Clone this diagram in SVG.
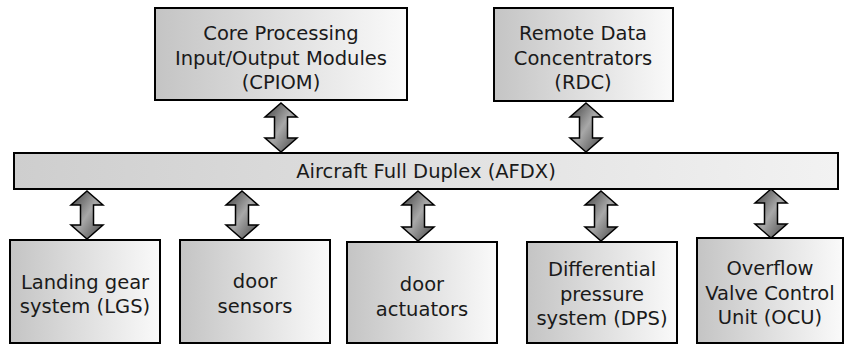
<svg xmlns="http://www.w3.org/2000/svg" width="846" height="347" viewBox="0 0 846 347">
<defs>
<linearGradient id="boxg" x1="0" y1="0" x2="1" y2="0">
<stop offset="0" stop-color="#c4c4c4"/>
<stop offset="1" stop-color="#fafafa"/>
</linearGradient>
<linearGradient id="barg" x1="0" y1="0" x2="1" y2="0">
<stop offset="0" stop-color="#cecece"/>
<stop offset="1" stop-color="#f2f2f2"/>
</linearGradient>
<linearGradient id="arrg" x1="0" y1="0" x2="1" y2="1">
<stop offset="0" stop-color="#3c3c3c"/>
<stop offset="0.5" stop-color="#a8a8a8"/>
<stop offset="1" stop-color="#454545"/>
</linearGradient>
</defs>
<style>
.box{fill:url(#boxg);stroke:#000;stroke-width:2}
.bar{fill:url(#barg);stroke:#000;stroke-width:2}
.arr{fill:url(#arrg);stroke:#000;stroke-width:1.5;stroke-linejoin:miter}
text{font-family:"DejaVu Sans",sans-serif;font-size:19.5px;fill:#1a1a1a;text-anchor:middle}
</style>
<rect width="846" height="347" fill="#fff"/>
<g id="connectors">
<path class="arr" d="M281,103 L297,117 L287.5,117 L287.5,138 L297,138 L281,152 L265,138 L274.5,138 L274.5,117 L265,117 Z"/>
<path class="arr" d="M586,103 L602,117 L592.5,117 L592.5,138 L602,138 L586,152 L570,138 L579.5,138 L579.5,117 L570,117 Z"/>
<path class="arr" d="M87,191 L103,205 L93.5,205 L93.5,225 L103,225 L87,239 L71,225 L80.5,225 L80.5,205 L71,205 Z"/>
<path class="arr" d="M242,191 L258,205 L248.5,205 L248.5,225 L258,225 L242,239 L226,225 L235.5,225 L235.5,205 L226,205 Z"/>
<path class="arr" d="M418,191 L434,205 L424.5,205 L424.5,227 L434,227 L418,241 L402,227 L411.5,227 L411.5,205 L402,205 Z"/>
<path class="arr" d="M601,191 L617,205 L607.5,205 L607.5,227 L617,227 L601,241 L585,227 L594.5,227 L594.5,205 L585,205 Z"/>
<path class="arr" d="M771,189 L787,203 L777.5,203 L777.5,224 L787,224 L771,238 L755,224 L764.5,224 L764.5,203 L755,203 Z"/>
</g>
<g id="cpiom">
<rect class="box" x="155" y="8" width="252" height="92"/>
<text x="281" y="40">Core Processing</text>
<text x="281" y="65">Input/Output Modules</text>
<text x="281" y="89">(CPIOM)</text>
</g>
<g id="rdc">
<rect class="box" x="494" y="8" width="179" height="93"/>
<text x="583" y="40">Remote Data</text>
<text x="583" y="65">Concentrators</text>
<text x="583" y="89">(RDC)</text>
</g>
<g id="afdx">
<rect class="bar" x="14" y="153" width="824" height="36"/>
<text x="426" y="178">Aircraft Full Duplex (AFDX)</text>
</g>
<g id="lgs">
<rect class="box" x="10" y="240" width="150" height="103"/>
<text x="85" y="289">Landing gear</text>
<text x="85" y="313">system (LGS)</text>
</g>
<g id="sensors">
<rect class="box" x="180" y="240" width="150" height="103"/>
<text x="255" y="288">door</text>
<text x="255" y="313">sensors</text>
</g>
<g id="actuators">
<rect class="box" x="347" y="242" width="150" height="101"/>
<text x="422" y="291">door</text>
<text x="422" y="316">actuators</text>
</g>
<g id="dps">
<rect class="box" x="527" y="242" width="150" height="101"/>
<text x="602" y="276">Differential</text>
<text x="602" y="301">pressure</text>
<text x="602" y="325">system (DPS)</text>
</g>
<g id="ocu">
<rect class="box" x="697" y="238" width="146" height="105"/>
<text x="770" y="275">Overflow</text>
<text x="770" y="300">Valve Control</text>
<text x="770" y="324">Unit (OCU)</text>
</g>
</svg>
